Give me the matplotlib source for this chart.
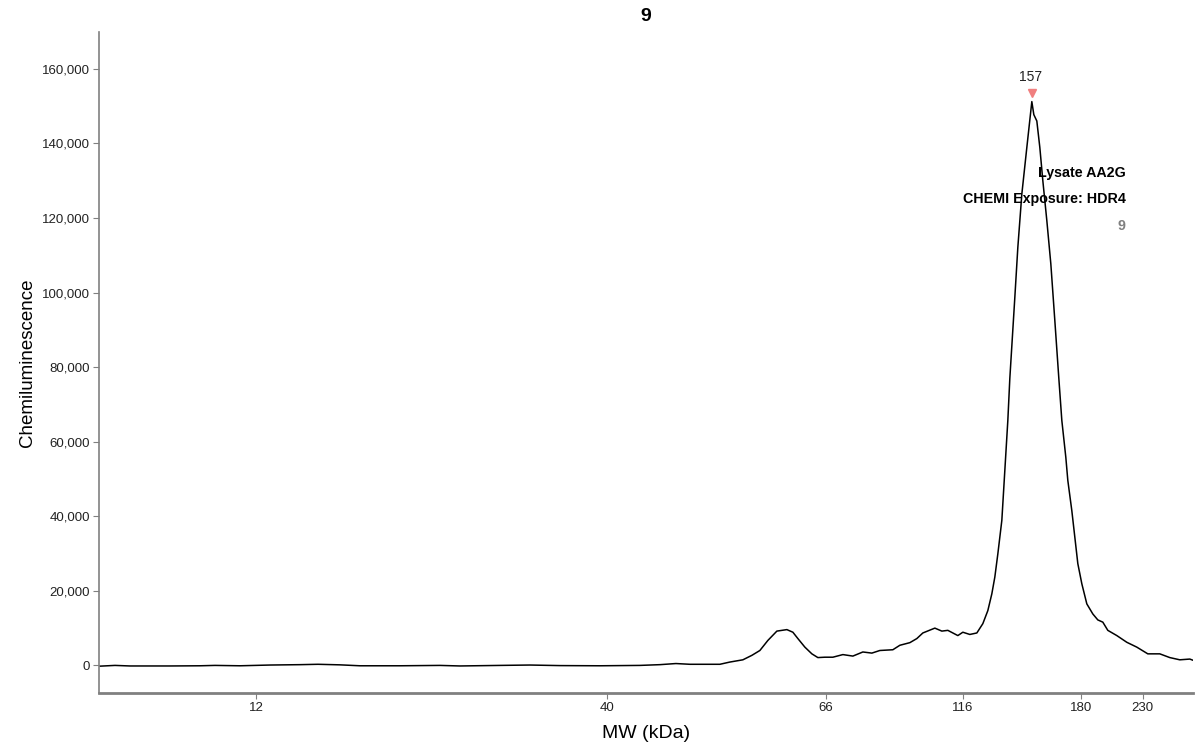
import numpy as np
import matplotlib.pyplot as plt
import matplotlib.transforms as mtransforms
from matplotlib.ticker import FuncFormatter

plt.rcParams['font.family'] = ['Liberation Sans', 'DejaVu Sans']

# capillary position (a.u.) and chemiluminescence signal
pos = [1, 16, 31, 71, 101, 116, 141, 171, 201, 219, 241, 261, 301, 341, 361, 401,
       431, 461, 501, 541, 561, 577, 591, 606, 621, 631, 644, 653, 661, 669, 678,
       688, 694, 699, 706, 713, 719, 726, 734, 744, 754, 764, 773, 781, 794, 801,
       811, 818, 824, 836, 843, 849, 859, 864, 871, 878, 884, 889, 893, 896, 899,
       903, 906, 909, 911, 916, 919, 923, 928, 933, 935, 938, 941, 944, 948, 952,
       956, 960, 963, 967, 969, 973, 976, 979, 983, 988, 994, 999, 1004, 1009,
       1018, 1028, 1038, 1049, 1061, 1071, 1081, 1091, 1094]
signal = [-200, 0, -150, -150, -100, 0, -100, 100, 200, 300, 150, -100, -100, 0,
          -150, 0, 100, -50, -100, 0, 200, 500, 300, 300, 300, 900, 1500, 2700,
          4000, 6700, 9200, 9600, 8900, 7200, 4900, 3100, 2100, 2200, 2200, 2900,
          2500, 3600, 3300, 4000, 4200, 5400, 6100, 7200, 8700, 10000, 9200, 9400,
          8000, 8900, 8300, 8700, 11200, 14700, 19200, 23700, 29900, 38900, 52300,
          65700, 77000, 98700, 112100, 126400, 138900, 151200, 147700, 146000,
          138900, 130000, 119300, 107700, 92500, 77000, 65700, 55800, 49600, 41500,
          34400, 27300, 21900, 16500, 13800, 12200, 11600, 9400, 8000, 6200, 4900,
          3100, 3100, 2100, 1500, 1700, 1400]

# molecular weight ladder: label and its position on the capillary axis
mw_labels = ['12', '40', '66', '116', '180', '230']
mw_pos = [157, 508, 727, 864, 982, 1044]

peak_label = '157'
sample = 'Lysate AA2G'
exposure = 'CHEMI Exposure: HDR4'
capillary = '9'

fig = plt.figure(figsize=(12, 7.5), dpi=100)
ax = fig.add_axes([0.0825, 0.076, 0.9115, 0.881])

ax.plot(pos, signal, color='black', lw=1.1)

# peak marker, a little above the apex
ipk = int(np.argmax(signal))
shift = mtransforms.ScaledTranslation(0, 6 / 72, fig.dpi_scale_trans)
ax.plot(pos[ipk], signal[ipk], marker='v', color='#f07f7f', ms=6,
        transform=ax.transData + shift)
ax.annotate(peak_label, xy=(pos[ipk], signal[ipk]), xytext=(-1, 13), textcoords='offset points',
            ha='center', va='bottom', fontsize=10, color='#222222')

ax.set_xlim(0, 1094)
ax.set_ylim(-7400, 169800)
ax.set_xticks(mw_pos)
ax.set_xticklabels(mw_labels)
ax.set_yticks(np.arange(0, 160001, 20000))
ax.yaxis.set_major_formatter(FuncFormatter(lambda v, p: f'{int(v):,}'))

for s in ['top', 'right']:
    ax.spines[s].set_visible(False)
ax.spines['left'].set_color('#808080')
ax.spines['left'].set_linewidth(1.2)
ax.spines['bottom'].set_color('#808080')
ax.spines['bottom'].set_linewidth(2)
ax.tick_params(axis='both', colors='#808080', labelcolor='#222222', labelsize=9.5,
               length=4, width=0.8, pad=2.5)

ax.set_xlabel('MW (kDa)', fontsize=14, labelpad=8)
ax.set_ylabel('Chemiluminescence', fontsize=13.5, labelpad=4)
ax.set_title(capillary, fontsize=14, fontweight='bold', pad=8)

ax.text(0.9388, 0.7867, sample, transform=ax.transAxes, ha='right', va='center',
        fontsize=10.3, fontweight='bold')
ax.text(0.9388, 0.7474, exposure, transform=ax.transAxes, ha='right', va='center',
        fontsize=10.3, fontweight='bold')
ax.text(0.9388, 0.7065, capillary, transform=ax.transAxes, ha='right', va='center',
        fontsize=10.3, fontweight='bold', color='#808080')

fig.savefig('out.png', dpi=100)
